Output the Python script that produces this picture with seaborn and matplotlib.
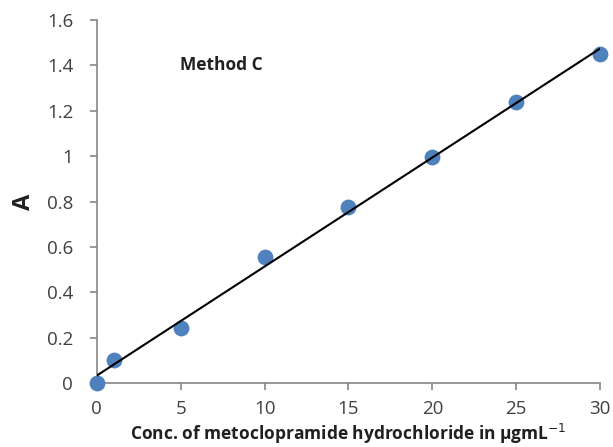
import matplotlib
matplotlib.use("Agg")
import matplotlib.pyplot as plt
import seaborn as sns
import pandas as pd

conc = [0, 1, 5, 10, 15, 20, 25, 30]
absorb = [0.0, 0.10, 0.245, 0.555, 0.775, 0.995, 1.24, 1.45]
x_ticks = [0, 5, 10, 15, 20, 25, 30]
y_ticks = [0, 0.2, 0.4, 0.6, 0.8, 1.0, 1.2, 1.4, 1.6]
y_tick_labels = ["0", "0.2", "0.4", "0.6", "0.8", "1", "1.2", "1.4", "1.6"]

df = pd.DataFrame({"conc": conc, "A": absorb})

sns.set_theme(style="ticks")
plt.rcParams['font.family'] = ['Open Sans', 'DejaVu Sans']

fig = plt.figure(figsize=(6.13, 4.47), dpi=100)
ax = fig.add_axes([0.158, 0.143, 0.821, 0.812])

sns.regplot(data=df, x="conc", y="A", ax=ax, ci=None,
            scatter_kws=dict(s=130, color="#4F81BD", alpha=1, linewidths=0, clip_on=False, zorder=3),
            line_kws=dict(color="black", lw=1.5, zorder=4))

ax.set_xlim(0, 30)
ax.set_ylim(0, 1.6)
ax.set_xticks(x_ticks)
ax.set_xticklabels([str(t) for t in x_ticks])
ax.set_yticks(y_ticks)
ax.set_yticklabels(y_tick_labels)

for s in ["top", "right"]:
    ax.spines[s].set_visible(False)
for s in ["left", "bottom"]:
    ax.spines[s].set_color("#868686")
    ax.spines[s].set_linewidth(1.2)
ax.tick_params(axis="both", colors="#868686", length=5, width=1.2, labelsize=13.5, labelcolor="#404040")
ax.tick_params(axis="y", pad=12)
ax.tick_params(axis="x", pad=7)

ax.set_xlabel("Conc. of metoclopramide hydrochloride in μgmL$^{-1}$", fontsize=12.5, fontweight="bold", color="#202020", labelpad=3)
ax.set_ylabel("A", fontsize=17, fontweight="bold", color="#202020", labelpad=8)

ax.text(4.95, 1.40, "Method C", fontsize=12.5, fontweight="bold", color="#202020", va="center", ha="left")

fig.savefig("out.png", dpi=100)
